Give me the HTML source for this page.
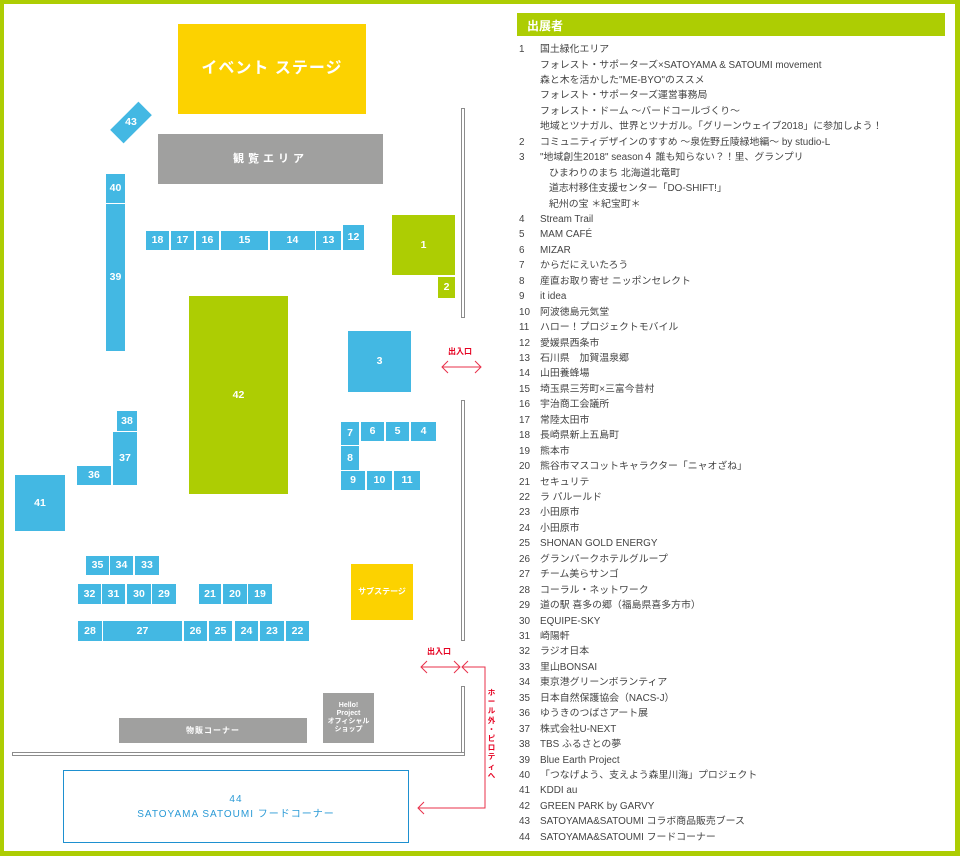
<!DOCTYPE html>
<html><head><meta charset="utf-8"><style>
*{margin:0;padding:0;box-sizing:border-box}
body{width:960px;height:856px;position:relative;background:#fff;overflow:hidden;font-family:"Liberation Sans","Noto Sans CJK JP",sans-serif}
.a{position:absolute;display:flex;align-items:center;justify-content:center;color:#fff;font-size:10.5px;font-weight:bold;text-align:center;line-height:1.15}
.b{background:#43b8e3}
.g{background:#adcd03}
.y{background:#fcd200}
.gr{background:#a0a09f;font-weight:bold}
.w{position:absolute;background:#fff;border:1px solid #8c8c8c}
.L{position:absolute;left:519px;font-size:9.9px;color:#444;white-space:nowrap;line-height:12px}
.L span{position:absolute;left:21px}
</style></head><body>
<div style="position:absolute;left:0;top:0;width:960px;height:4px;background:#adcd03"></div>
<div style="position:absolute;left:0;top:0;width:4px;height:856px;background:#adcd03"></div>
<div style="position:absolute;left:955px;top:0;width:5px;height:856px;background:#adcd03"></div>
<div style="position:absolute;left:0;top:851px;width:960px;height:5px;background:#adcd03"></div>

<div class="a y" style="left:178px;top:24px;width:188px;height:90px;font-size:16px;font-weight:bold;letter-spacing:1px">イベント ステージ</div>
<div class="a gr" style="left:158px;top:134px;width:225px;height:50px;font-size:11px;letter-spacing:4px">観覧エリア</div>
<div class="b" style="position:absolute;left:111px;top:113px;width:40px;height:19px;transform:rotate(-45deg)"></div>
<div class="a" style="left:111px;top:113px;width:40px;height:19px">43</div>
<div class="a b" style="left:106px;top:174px;width:19px;height:29px">40</div>
<div class="a b" style="left:106px;top:204px;width:19px;height:147px">39</div>
<div class="a b" style="left:146px;top:231px;width:23px;height:19px">18</div>
<div class="a b" style="left:171px;top:231px;width:23px;height:19px">17</div>
<div class="a b" style="left:196px;top:231px;width:23px;height:19px">16</div>
<div class="a b" style="left:221px;top:231px;width:47px;height:19px">15</div>
<div class="a b" style="left:270px;top:231px;width:45px;height:19px">14</div>
<div class="a b" style="left:316px;top:231px;width:25px;height:19px">13</div>
<div class="a b" style="left:343px;top:225px;width:21px;height:25px">12</div>
<div class="a g" style="left:392px;top:215px;width:63px;height:60px">1</div>
<div class="a g" style="left:438px;top:277px;width:17px;height:21px">2</div>
<div class="a b" style="left:348px;top:331px;width:63px;height:61px">3</div>
<div class="a g" style="left:189px;top:296px;width:99px;height:198px">42</div>
<div class="a b" style="left:117px;top:411px;width:20px;height:20px">38</div>
<div class="a b" style="left:113px;top:432px;width:24px;height:53px">37</div>
<div class="a b" style="left:77px;top:466px;width:34px;height:19px">36</div>
<div class="a b" style="left:15px;top:475px;width:50px;height:56px">41</div>
<div class="a b" style="left:341px;top:422px;width:18px;height:23px">7</div>
<div class="a b" style="left:361px;top:422px;width:23px;height:19px">6</div>
<div class="a b" style="left:386px;top:422px;width:23px;height:19px">5</div>
<div class="a b" style="left:411px;top:422px;width:25px;height:19px">4</div>
<div class="a b" style="left:341px;top:446px;width:18px;height:24px">8</div>
<div class="a b" style="left:341px;top:471px;width:24px;height:19px">9</div>
<div class="a b" style="left:367px;top:471px;width:25px;height:19px">10</div>
<div class="a b" style="left:394px;top:471px;width:26px;height:19px">11</div>
<div class="a b" style="left:86px;top:556px;width:23px;height:19px">35</div>
<div class="a b" style="left:110px;top:556px;width:23px;height:19px">34</div>
<div class="a b" style="left:135px;top:556px;width:24px;height:19px">33</div>
<div class="a b" style="left:78px;top:584px;width:23px;height:20px">32</div>
<div class="a b" style="left:102px;top:584px;width:23px;height:20px">31</div>
<div class="a b" style="left:127px;top:584px;width:24px;height:20px">30</div>
<div class="a b" style="left:152px;top:584px;width:24px;height:20px">29</div>
<div class="a b" style="left:199px;top:584px;width:22px;height:20px">21</div>
<div class="a b" style="left:223px;top:584px;width:24px;height:20px">20</div>
<div class="a b" style="left:248px;top:584px;width:24px;height:20px">19</div>
<div class="a b" style="left:78px;top:621px;width:24px;height:20px">28</div>
<div class="a b" style="left:103px;top:621px;width:79px;height:20px">27</div>
<div class="a b" style="left:184px;top:621px;width:23px;height:20px">26</div>
<div class="a b" style="left:209px;top:621px;width:23px;height:20px">25</div>
<div class="a b" style="left:235px;top:621px;width:23px;height:20px">24</div>
<div class="a b" style="left:260px;top:621px;width:24px;height:20px">23</div>
<div class="a b" style="left:286px;top:621px;width:23px;height:20px">22</div>
<div class="a y" style="left:351px;top:564px;width:62px;height:56px;font-size:8px;font-weight:bold">サブステージ</div>
<div class="a gr" style="left:119px;top:718px;width:188px;height:25px;font-size:8px;letter-spacing:1px">物販コーナー</div>
<div class="a gr" style="left:323px;top:693px;width:51px;height:50px;font-size:7px">Hello!<br>Project<br>オフィシャル<br>ショップ</div>
<div class="a" style="left:63px;top:770px;width:346px;height:73px;border:1px solid #1e90d0;color:#2a9ad6;font-size:10px;font-weight:normal;letter-spacing:1px;line-height:15px">44<br>SATOYAMA SATOUMI フードコーナー</div>

<div class="w" style="left:461px;top:108px;width:4px;height:210px"></div>
<div class="w" style="left:461px;top:400px;width:4px;height:241px"></div>
<div class="w" style="left:461px;top:686px;width:4px;height:70px"></div>
<div class="w" style="left:12px;top:752px;width:453px;height:4px"></div>

<div style="position:absolute;left:448px;top:346px;font-size:8px;font-weight:bold;color:#e60020">出入口</div>
<div style="position:absolute;left:427px;top:646px;font-size:8px;font-weight:bold;color:#e60020">出入口</div>
<div style="position:absolute;left:487px;top:688px;width:9px;font-size:7.5px;font-weight:bold;color:#e60020;line-height:9.2px;text-align:center">ホ<br>ー<br>ル<br>外<br>・<br>ピ<br>ロ<br>テ<br>ィ<br>へ</div>
<svg style="position:absolute;left:0;top:0" width="960" height="856">
<g fill="none" stroke="#e8304a" stroke-width="1">
<path d="M442 367H481M448 361L442 367L448 373M475 361L481 367L475 373"/>
<path d="M421 667H460M427 661L421 667L427 673M454 661L460 667L454 673"/>
<path d="M468 661L462 667L468 673M462 667H485V808H418M424 802L418 808L424 814"/>
</g></svg>

<div style="position:absolute;left:517px;top:13px;width:428px;height:23px;background:#adcd03;color:#fff;font-size:12px;font-weight:bold;padding:4px 0 0 10px">出展者</div>
<div class="L" style="top:44px">1<span>国土緑化エリア</span></div>
<div class="L" style="top:59.5px"><span>フォレスト・サポーターズ×SATOYAMA &amp; SATOUMI movement</span></div>
<div class="L" style="top:75px"><span>森と木を活かした"ME-BYO"のススメ</span></div>
<div class="L" style="top:90.4px"><span>フォレスト・サポーターズ運営事務局</span></div>
<div class="L" style="top:105.8px"><span>フォレスト・ドーム ～バードコールづくり～</span></div>
<div class="L" style="top:121.3px"><span>地域とツナガル、世界とツナガル。「グリーンウェイブ2018」に参加しよう！</span></div>
<div class="L" style="top:136.7px">2<span>コミュニティデザインのすすめ ～泉佐野丘陵緑地編～ by studio-L</span></div>
<div class="L" style="top:152.2px">3<span>"地域創生2018" season４ 誰も知らない？！里、グランプリ</span></div>
<div class="L" style="top:167.6px"><span style="left:30px">ひまわりのまち 北海道北竜町</span></div>
<div class="L" style="top:183px"><span style="left:30px">道志村移住支援センター「DO-SHIFT!」</span></div>
<div class="L" style="top:198.5px"><span style="left:30px">紀州の宝 ＊紀宝町＊</span></div>
<div class="L" style="top:214px">4<span>Stream Trail</span></div>
<div class="L" style="top:229.4px">5<span>MAM CAFÉ</span></div>
<div class="L" style="top:244.8px">6<span>MIZAR</span></div>
<div class="L" style="top:260.3px">7<span>からだにえいたろう</span></div>
<div class="L" style="top:275.7px">8<span>産直お取り寄せ ニッポンセレクト</span></div>
<div class="L" style="top:291.2px">9<span>it idea</span></div>
<div class="L" style="top:306.6px">10<span>阿波徳島元気堂</span></div>
<div class="L" style="top:322px">11<span>ハロー！プロジェクトモバイル</span></div>
<div class="L" style="top:337.5px">12<span>愛媛県西条市</span></div>
<div class="L" style="top:353px">13<span>石川県　加賀温泉郷</span></div>
<div class="L" style="top:368.4px">14<span>山田養蜂場</span></div>
<div class="L" style="top:383.8px">15<span>埼玉県三芳町×三富今昔村</span></div>
<div class="L" style="top:399.3px">16<span>宇治商工会議所</span></div>
<div class="L" style="top:414.7px">17<span>常陸太田市</span></div>
<div class="L" style="top:430.2px">18<span>長崎県新上五島町</span></div>
<div class="L" style="top:445.6px">19<span>熊本市</span></div>
<div class="L" style="top:461px">20<span>熊谷市マスコットキャラクター「ニャオざね」</span></div>
<div class="L" style="top:476.5px">21<span>セキュリテ</span></div>
<div class="L" style="top:492px">22<span>ラ パルールド</span></div>
<div class="L" style="top:507.4px">23<span>小田原市</span></div>
<div class="L" style="top:522.8px">24<span>小田原市</span></div>
<div class="L" style="top:538.3px">25<span>SHONAN GOLD ENERGY</span></div>
<div class="L" style="top:553.7px">26<span>グランパークホテルグループ</span></div>
<div class="L" style="top:569.2px">27<span>チーム美らサンゴ</span></div>
<div class="L" style="top:584.6px">28<span>コーラル・ネットワーク</span></div>
<div class="L" style="top:600px">29<span>道の駅 喜多の郷（福島県喜多方市）</span></div>
<div class="L" style="top:615.5px">30<span>EQUIPE-SKY</span></div>
<div class="L" style="top:631px">31<span>崎陽軒</span></div>
<div class="L" style="top:646.4px">32<span>ラジオ日本</span></div>
<div class="L" style="top:661.8px">33<span>里山BONSAI</span></div>
<div class="L" style="top:677.3px">34<span>東京港グリーンボランティア</span></div>
<div class="L" style="top:692.7px">35<span>日本自然保護協会（NACS-J）</span></div>
<div class="L" style="top:708.2px">36<span>ゆうきのつばさアート展</span></div>
<div class="L" style="top:723.6px">37<span>株式会社U-NEXT</span></div>
<div class="L" style="top:739px">38<span>TBS ふるさとの夢</span></div>
<div class="L" style="top:754.5px">39<span>Blue Earth Project</span></div>
<div class="L" style="top:770px">40<span>「つなげよう、支えよう森里川海」プロジェクト</span></div>
<div class="L" style="top:785.4px">41<span>KDDI au</span></div>
<div class="L" style="top:800.8px">42<span>GREEN PARK by GARVY</span></div>
<div class="L" style="top:816.3px">43<span>SATOYAMA&amp;SATOUMI コラボ商品販売ブース</span></div>
<div class="L" style="top:831.7px">44<span>SATOYAMA&amp;SATOUMI フードコーナー</span></div>
</body></html>
